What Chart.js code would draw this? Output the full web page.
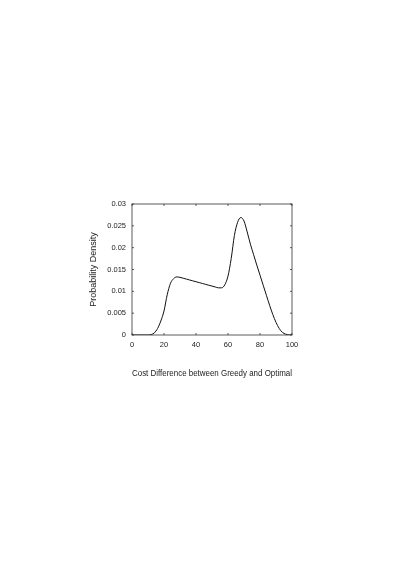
<!DOCTYPE html>
<html>
<head>
<meta charset="utf-8">
<script src="https://cdn.jsdelivr.net/npm/chart.js@4"></script>
<style>
  body { margin: 0; background: #fff; }
  #wrap { width: 413px; height: 585px; }
</style>
</head>
<body>
<div id="wrap"><canvas id="chart-density" width="413" height="585"></canvas></div>
<script>
// cost difference (x) and estimated density (y)
const costDiff = [0, 2, 4, 6, 8, 10, 12, 14, 16, 18, 20, 22, 24, 26, 28, 30, 32, 34, 36, 38, 40,
  42, 44, 46, 48, 50, 52, 54, 56, 58, 60, 62, 64, 66, 68, 70, 72, 74, 76, 78, 80,
  82, 84, 86, 88, 90, 92, 94, 96, 98, 100];
const density = [0, 0, 0, 0, 0, 0, 0.0001, 0.0005, 0.0015, 0.0032, 0.0055, 0.0092, 0.0118, 0.0129, 0.0133, 0.0132, 0.0130, 0.0128, 0.0126, 0.0124, 0.0122,
  0.0120, 0.0118, 0.0116, 0.0114, 0.0112, 0.0110, 0.0108, 0.0108, 0.0115, 0.0135, 0.0175, 0.0228, 0.0258, 0.0269, 0.0261, 0.0236, 0.0208, 0.0184, 0.0160, 0.0137,
  0.0114, 0.0091, 0.0068, 0.0047, 0.0029, 0.0015, 0.0006, 0.0002, 0.00003, 0];
const xTicks = [0, 20, 40, 60, 80, 100];
const yTicks = [0, 0.005, 0.01, 0.015, 0.02, 0.025, 0.03];

const xTitle = 'Cost Difference between Greedy and Optimal';
const yTitle = 'Probability Density';

const font = { family: 'Liberation Sans, Arial, sans-serif', size: 7.5 };
const titleFont = { family: 'Liberation Sans, Arial, sans-serif', size: 9 };

// matlab-style box with short ticks pointing inward on all four sides
const boxPlugin = {
  id: 'boxPlugin',
  afterDraw(chart) {
    const {ctx, chartArea: a, scales} = chart;
    ctx.save();
    ctx.strokeStyle = '#333';
    ctx.lineWidth = 0.8;
    ctx.strokeRect(a.left, a.top, a.right - a.left, a.bottom - a.top);
    const len = 2;
    ctx.beginPath();
    xTicks.forEach(v => {
      const px = scales.x.getPixelForValue(v);
      ctx.moveTo(px, a.bottom); ctx.lineTo(px, a.bottom - len);
      ctx.moveTo(px, a.top); ctx.lineTo(px, a.top + len);
    });
    yTicks.forEach(v => {
      const py = scales.y.getPixelForValue(v);
      ctx.moveTo(a.left, py); ctx.lineTo(a.left + len, py);
      ctx.moveTo(a.right, py); ctx.lineTo(a.right - len, py);
    });
    ctx.stroke();
    ctx.restore();
  }
};

const ctx = document.getElementById('chart-density').getContext('2d');
new Chart(ctx, {
  type: 'line',
  data: {
    datasets: [{
      data: costDiff.map((x, i) => ({x: x, y: density[i]})),
      borderColor: '#111',
      borderWidth: 1,
      pointRadius: 0,
      fill: false,
      cubicInterpolationMode: 'monotone'
    }]
  },
  options: {
    responsive: false,
    animation: false,
    devicePixelRatio: 1,
    layout: { padding: { left: 88, right: 121, top: 204, bottom: 206 } },
    plugins: { legend: { display: false }, tooltip: { enabled: false } },
    scales: {
      x: {
        type: 'linear',
        min: 0,
        max: 100,
        afterBuildTicks: s => { s.ticks = xTicks.map(v => ({value: v})); },
        afterFit: s => { s.height = 44; },
        grid: { display: false, drawTicks: false },
        border: { display: false },
        ticks: { color: '#222', font: font, padding: 5, maxRotation: 0 },
        title: { display: true, text: xTitle, color: '#222', font: titleFont, padding: 0 }
      },
      y: {
        min: 0,
        max: 0.03,
        afterBuildTicks: s => { s.ticks = yTicks.map(v => ({value: v})); },
        afterFit: s => { s.width = 44; },
        grid: { display: false, drawTicks: false },
        border: { display: false },
        ticks: { color: '#222', font: font, padding: 6, callback: v => String(+v.toFixed(3)) },
        title: { display: true, text: yTitle, color: '#222', font: titleFont, padding: 0 }
      }
    }
  },
  plugins: [boxPlugin]
});
</script>
</body>
</html>
